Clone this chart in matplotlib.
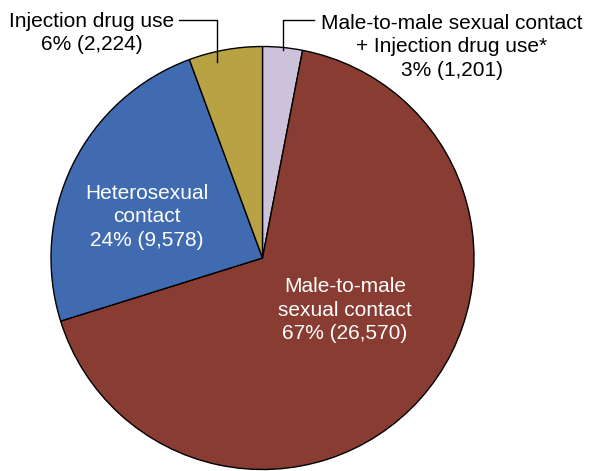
import matplotlib.pyplot as plt

plt.rcParams['font.family'] = ['Liberation Sans', 'DejaVu Sans']

# slices, clockwise from 12 o'clock
labels = ['Male-to-male sexual contact\n+ Injection drug use*', 'Male-to-male\nsexual contact',
          'Heterosexual\ncontact', 'Injection drug use']
counts = [1201, 26570, 9578, 2224]
pcts = [3, 67, 24, 6]
colors = ['#CCC3DB', '#893C31', '#416BB0', '#B9A244']

W, H = 592, 471
fig = plt.figure(figsize=(W / 100, H / 100), dpi=100)
ax = fig.add_axes([0, 0, 1, 1])

cx, cy, r = 262.5, H - 258, 211.5
ax.pie(counts, colors=colors, startangle=90, counterclock=False,
       center=(cx, cy), radius=r,
       wedgeprops=dict(edgecolor='black', linewidth=1))
ax.set_xlim(0, W)
ax.set_ylim(0, H)
ax.set_aspect('equal')
ax.axis('off')

fs = 15
ls = 1.28
def txt(i):
    return '%s\n%d%% (%s)' % (labels[i], pcts[i], format(counts[i], ','))

# inside labels
ax.text(147, H - 217, txt(2), color='white', ha='center', va='center',
        fontsize=fs, linespacing=ls)
ax.text(345, H - 310, txt(1), color='white', ha='center', va='center',
        fontsize=fs, linespacing=ls)

# outside labels with leader lines
ax.text(91.5, H - 33, txt(3), color='black', ha='center', va='center',
        fontsize=fs, linespacing=ls)
ax.plot([179, 217, 217], [H - 20, H - 20, H - 62], color='black', lw=1)

ax.text(452, H - 47, txt(0), color='black', ha='center', va='center',
        fontsize=fs, linespacing=ls)
ax.plot([314, 283, 283], [H - 20, H - 20, H - 50], color='black', lw=1)

fig.savefig('out.png', dpi=100)
